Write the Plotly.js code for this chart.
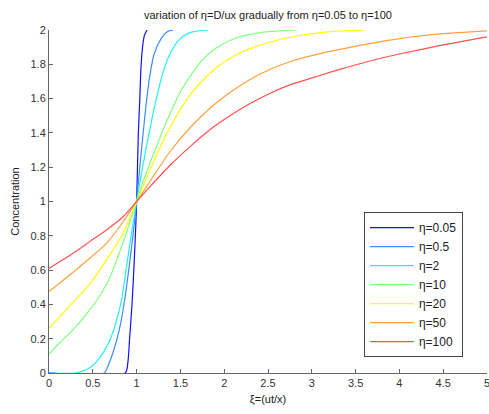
<!DOCTYPE html>
<html>
<head>
<meta charset="utf-8">
<script src="https://cdn.plot.ly/plotly-3.0.1.min.js"></script>
<style>html,body{margin:0;padding:0;background:#fff;}#chart{width:489px;height:414px;}</style>
</head>
<body>
<div id="chart"></div>
<script>
// Series names
var seriesNames = ['η=0.05', 'η=0.5', 'η=2', 'η=10', 'η=20', 'η=50', 'η=100'];

// Values
var eta005X = [0, 0.87, 0.90, 0.92, 0.95, 0.97, 0.99, 1.00, 1.01, 1.02, 1.035, 1.05, 1.07, 1.09, 1.12];
var eta005Y = [0, 0, 0.06, 0.2, 0.42, 0.62, 0.85, 1.0, 1.2, 1.4, 1.58, 1.78, 1.91, 1.97, 2.0];

var eta05X = [0, 0.63, 0.68, 0.75, 0.81, 0.865, 0.915, 0.96, 1.0, 1.04, 1.075, 1.105, 1.15, 1.2, 1.28, 1.35, 1.42];
var eta05Y = [0, 0, 0.05, 0.15, 0.27, 0.43, 0.62, 0.81, 1.0, 1.22, 1.40, 1.55, 1.73, 1.86, 1.95, 1.99, 2.0];

var eta2X = [0, 0.3, 0.465, 0.58, 0.675, 0.75, 0.83, 0.885, 0.94, 1.0, 1.05, 1.105, 1.17, 1.235, 1.3, 1.38, 1.49, 1.61, 1.82];
var eta2Y = [0, 0, 0.03, 0.09, 0.17, 0.27, 0.43, 0.62, 0.81, 1.0, 1.15, 1.30, 1.47, 1.62, 1.75, 1.86, 1.945, 1.985, 2.0];

var eta10X = [0, 0.12, 0.27, 0.43, 0.54, 0.66, 0.73, 0.81, 0.885, 0.96, 1.0, 1.07, 1.15, 1.265, 1.38, 1.49, 1.61, 1.76, 1.91, 2.14, 2.41, 2.83];
var eta10Y = [0.11, 0.175, 0.25, 0.345, 0.42, 0.52, 0.60, 0.71, 0.82, 0.94, 1.0, 1.11, 1.22, 1.37, 1.51, 1.63, 1.73, 1.83, 1.895, 1.955, 1.985, 2.0];

var eta20X = [0, 0.27, 0.465, 0.656, 0.846, 0.925, 1.0, 1.15, 1.30, 1.456, 1.61, 1.76, 1.91, 2.10, 2.29, 2.6, 2.87, 3.06, 3.3, 3.6];
var eta20Y = [0.26, 0.41, 0.52, 0.66, 0.815, 0.905, 1.0, 1.18, 1.35, 1.50, 1.62, 1.71, 1.78, 1.845, 1.89, 1.94, 1.968, 1.982, 1.993, 2.0];

var eta50X = [0, 0.237, 0.465, 0.656, 0.846, 1.0, 1.15, 1.38, 1.61, 1.84, 2.065, 2.29, 2.52, 2.75, 3.09, 3.32, 3.63, 4.0, 4.47, 5.0];
var eta50Y = [0.475, 0.571, 0.669, 0.756, 0.882, 1.0, 1.115, 1.29, 1.43, 1.545, 1.635, 1.71, 1.77, 1.815, 1.862, 1.887, 1.918, 1.95, 1.977, 1.995];

var eta100X = [0, 0.274, 0.465, 0.656, 0.846, 1.0, 1.15, 1.38, 1.61, 1.84, 2.065, 2.29, 2.52, 2.75, 3.09, 3.32, 3.63, 4.0, 4.47, 5.0];
var eta100Y = [0.61, 0.698, 0.766, 0.834, 0.911, 1.0, 1.085, 1.21, 1.32, 1.42, 1.50, 1.57, 1.63, 1.68, 1.735, 1.77, 1.815, 1.86, 1.91, 1.96];

var xTickVals = [0, 0.5, 1, 1.5, 2, 2.5, 3, 3.5, 4, 4.5, 5];
var xTickText = ['0', '0.5', '1', '1.5', '2', '2.5', '3', '3.5', '4', '4.5', '5'];
var yTickVals = [0, 0.2, 0.4, 0.6, 0.8, 1, 1.2, 1.4, 1.6, 1.8, 2];
var yTickText = ['0', '0.2', '0.4', '0.6', '0.8', '1', '1.2', '1.4', '1.6', '1.8', '2'];

var colors = ['#1010ff', '#3b8cff', '#20f0f0', '#80ff80', '#ffff00', '#ffa040', '#ff5050'];
var xs = [eta005X, eta05X, eta2X, eta10X, eta20X, eta50X, eta100X];
var ys = [eta005Y, eta05Y, eta2Y, eta10Y, eta20Y, eta50Y, eta100Y];

var traces = seriesNames.map(function (n, i) {
  return {x: xs[i], y: ys[i], name: n, type: 'scatter', mode: 'lines', cliponaxis: true,
          line: {color: colors[i], width: 1.2, shape: 'spline', smoothing: 0.7}};
});

var font = {family: 'Liberation Sans, Arial, sans-serif', size: 11, color: '#222'};
var axisCommon = {
  showline: true, linecolor: '#666', linewidth: 1,
  ticks: 'inside', ticklen: 4, tickcolor: '#666', tickwidth: 1,
  showgrid: false, zeroline: false, mirror: false,
  tickfont: {family: font.family, size: 11, color: '#333'}
};

var layout = {
  width: 489, height: 414,
  margin: {l: 49, r: 2, t: 30, b: 41},
  paper_bgcolor: '#fff', plot_bgcolor: '#fff',
  font: font,
  showlegend: true,
  title: {text: 'variation of η=D/ux gradually from η=0.05 to η=100',
          font: {family: font.family, size: 11, color: '#222'},
          x: 0.548, xanchor: 'center', y: 0.963, yanchor: 'middle'},
  xaxis: Object.assign({}, axisCommon, {
    range: [0, 5], tickvals: xTickVals, ticktext: xTickText,
    ticklabeloverflow: 'allow',
    title: {text: 'ξ=(ut/x)', font: {family: font.family, size: 11, color: '#222'}, standoff: 7}
  }),
  yaxis: Object.assign({}, axisCommon, {
    range: [0, 2], tickvals: yTickVals, ticktext: yTickText,
    title: {text: 'Concentration', font: {family: font.family, size: 11, color: '#222'}, standoff: 8}
  }),
  legend: {
    x: 0.719, y: 0.469, xanchor: 'left', yanchor: 'top',
    bgcolor: '#fff', bordercolor: '#444', borderwidth: 1,
    font: {family: font.family, size: 12, color: '#222'},
    itemwidth: 44,
    tracegroupgap: 0
  }
};

Plotly.newPlot('chart', traces, layout, {displayModeBar: false, staticPlot: true});
</script>
</body>
</html>
